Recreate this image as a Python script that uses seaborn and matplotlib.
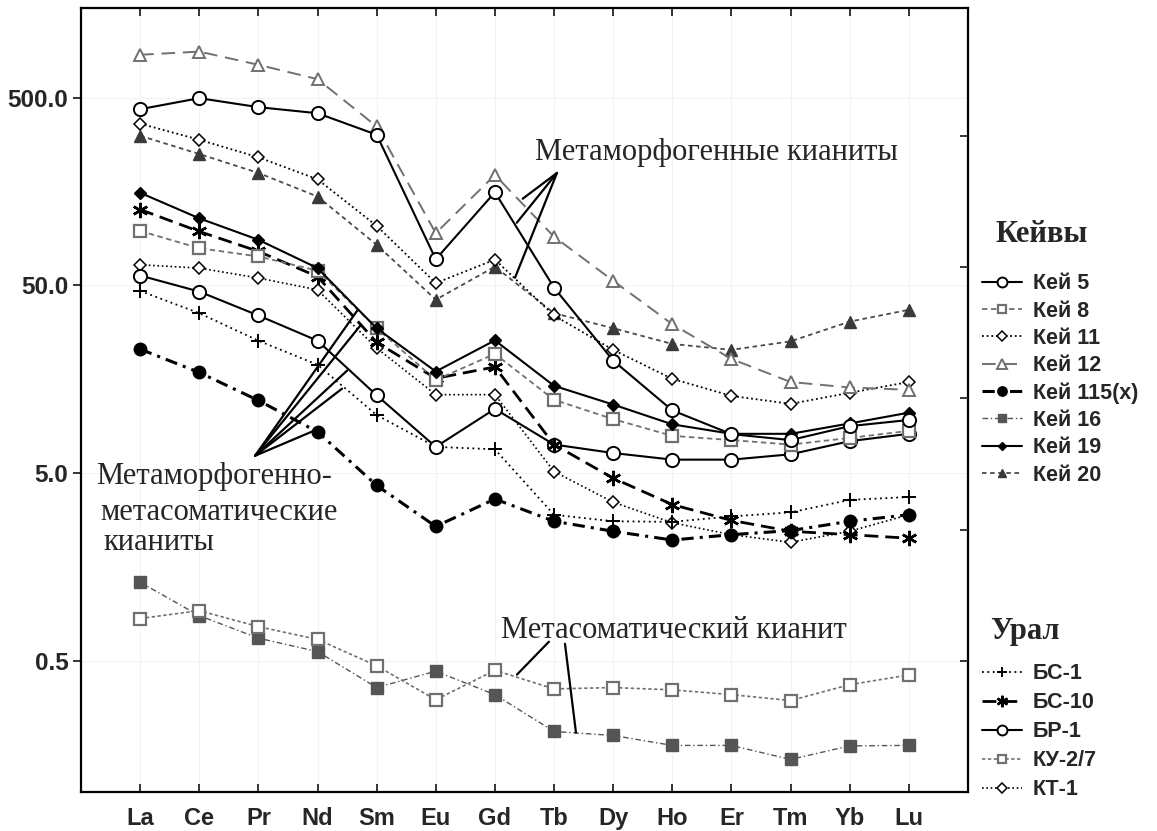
import numpy as np
import matplotlib
matplotlib.use("Agg")
import matplotlib.pyplot as plt
from matplotlib.ticker import NullLocator, FixedLocator
import seaborn as sns

# ---------------- data ----------------
elements = ['La', 'Ce', 'Pr', 'Nd', 'Sm', 'Eu', 'Gd', 'Tb', 'Dy', 'Ho', 'Er', 'Tm', 'Yb', 'Lu']

kei5 = [435, 498, 446, 414, 318, 69, 157, 48.7, 19.9, 10.8, 8.07, 7.5, 8.9, 9.6]
kei8 = [97.6, 79, 71.4, 60, 29.6, 15.7, 21.6, 12.3, 9.7, 7.9, 7.5, 7.1, 7.7, 8.4]
kei11 = [364, 299, 241, 184, 104, 51.5, 68.7, 34.6, 22.7, 15.9, 12.9, 11.7, 13.4, 15.3]
kei12 = [848, 882, 750, 629, 352, 95, 194, 91, 53, 31.1, 20.3, 15.3, 14.3, 13.9]
kei115 = [22.9, 17.2, 12.2, 8.3, 4.3, 2.6, 3.64, 2.77, 2.45, 2.2, 2.35, 2.47, 2.77, 3.0]
kei16 = [1.31, 0.87, 0.66, 0.56, 0.36, 0.44, 0.33, 0.21, 0.20, 0.177, 0.177, 0.149, 0.176, 0.177]
kei19 = [156, 114, 87.6, 61.9, 29.6, 17.4, 25.5, 14.6, 11.6, 9.1, 8.1, 8.1, 9.2, 10.5]
kei20 = [314, 251, 199, 149, 82.4, 42, 63, 35.6, 29.6, 24.4, 22.7, 25.2, 32.1, 37.1]

bs1 = [46.8, 35.6, 25.4, 18.9, 10.2, 6.9, 6.7, 3.0, 2.77, 2.75, 2.94, 3.09, 3.6, 3.73]
bs10 = [127, 97, 76, 55.8, 24.9, 16, 18.4, 7.1, 4.7, 3.4, 2.8, 2.45, 2.35, 2.25]
br1 = [56.5, 46.4, 34.6, 25.4, 13.0, 6.9, 11.0, 7.1, 6.4, 5.9, 5.9, 6.3, 7.4, 8.1]
ku27 = [0.84, 0.925, 0.76, 0.65, 0.47, 0.31, 0.445, 0.354, 0.36, 0.35, 0.33, 0.307, 0.373, 0.42]
kt1 = [64.5, 61.9, 54.8, 47.4, 23.2, 13.1, 13.1, 5.1, 3.5, 2.72, 2.35, 2.14, 2.45, 3.0]

keivy_names = ['Кей 5', 'Кей 8', 'Кей 11', 'Кей 12', 'Кей 115(x)', 'Кей 16', 'Кей 19', 'Кей 20']
ural_names = ['БС-1', 'БС-10', 'БР-1', 'КУ-2/7', 'КТ-1']

ytick_vals = [0.5, 5, 50, 500]
ytick_labels = ['0.5', '5.0', '50.0', '500.0']

# ---------------- style ----------------
sns.set_style("ticks")
plt.rcParams['font.family'] = ['Liberation Sans', 'DejaVu Sans']

GRAY = '#707070'
DGRAY = '#555555'

styles = {
    'Кей 5':      dict(color='black', marker='o', ms=9.5, mfc='white', mec='black', mew=1.4, ls='-', lw=1.5),
    'Кей 8':      dict(color=GRAY, marker='s', ms=8.5, mfc='white', mec=GRAY, mew=1.6, ls=(0, (3, 2)), lw=1.3),
    'Кей 11':     dict(color='black', marker='D', ms=6.5, mfc='white', mec='black', mew=1.1, ls=(0, (1, 1.6)), lw=1.3),
    'Кей 12':     dict(color=GRAY, marker='^', ms=9, mfc='white', mec=GRAY, mew=1.4, ls=(0, (7, 4)), lw=1.4),
    'Кей 115(x)': dict(color='black', marker='o', ms=9, mfc='black', mec='black', mew=1, ls=(0, (4, 2, 1, 2)), lw=2.2),
    'Кей 16':     dict(color=DGRAY, marker='s', ms=8, mfc=DGRAY, mec=DGRAY, mew=1, ls=(0, (4, 2, 1, 2)), lw=1.0),
    'Кей 19':     dict(color='black', marker='D', ms=6, mfc='black', mec='black', mew=1, ls='-', lw=1.5),
    'Кей 20':     dict(color='#4a4a4a', marker='^', ms=8.5, mfc='#3a3a3a', mec='#3a3a3a', mew=1, ls=(0, (2.5, 2)), lw=1.3),
    'БС-1':       dict(color='black', marker='+', ms=10, mfc='black', mec='black', mew=1.4, ls=(0, (1, 2)), lw=1.3),
    'БС-10':      dict(color='black', marker=(6, 2, 0), ms=11, mfc='black', mec='black', mew=1.8, ls=(0, (5, 2.5)), lw=2.0),
    'БР-1':       dict(color='black', marker='o', ms=9.5, mfc='white', mec='black', mew=1.4, ls='-', lw=1.5),
    'КУ-2/7':     dict(color=GRAY, marker='s', ms=8.5, mfc='white', mec=GRAY, mew=1.6, ls=(0, (2, 1.5)), lw=1.2),
    'КТ-1':       dict(color='black', marker='D', ms=6.5, mfc='white', mec='black', mew=1.1, ls=(0, (1, 1.6)), lw=1.2),
}

series = {
    'Кей 5': kei5, 'Кей 8': kei8, 'Кей 11': kei11, 'Кей 12': kei12,
    'Кей 115(x)': kei115, 'Кей 16': kei16, 'Кей 19': kei19, 'Кей 20': kei20,
    'БС-1': bs1, 'БС-10': bs10, 'БР-1': br1, 'КУ-2/7': ku27, 'КТ-1': kt1,
}

draw_order = ['Кей 16', 'КУ-2/7', 'КТ-1', 'Кей 115(x)', 'БС-1', 'БР-1', 'БС-10', 'Кей 8',
              'Кей 19', 'Кей 20', 'Кей 11', 'Кей 12', 'Кей 5']

fig = plt.figure(figsize=(11.57, 8.31), dpi=100)
ax = fig.add_axes([0.070, 0.047, 0.7666, 0.943])
ax.set_yscale('log')

xpos = np.arange(len(elements))
handles = {}
for name in draw_order:
    st = styles[name]
    sns.lineplot(x=xpos, y=series[name], ax=ax, color=st['color'], marker=st['marker'],
                 markersize=st['ms'], markerfacecolor=st['mfc'], markeredgecolor=st['mec'],
                 markeredgewidth=st['mew'], linestyle=st['ls'], linewidth=st['lw'],
                 label=name, legend=False, zorder=3)
    handles[name] = ax.lines[-1]

ax.set_xlim(-1, 14)
ax.set_ylim(0.1, 1500)
ax.set_xticks(xpos)
ax.set_xticklabels(elements, fontsize=17, fontweight='bold')
ax.yaxis.set_major_locator(FixedLocator(ytick_vals))
ax.set_yticklabels(ytick_labels, fontsize=17.5, fontweight='bold')
ax.yaxis.set_minor_locator(NullLocator())
ax.tick_params(axis='x', direction='in', top=True, length=6, width=1.3, pad=11)
ax.tick_params(axis='y', direction='out', length=6, width=1.3, pad=3)
ax.grid(True, color='#f3f3f3', lw=0.8, zorder=0)
for sp in ax.spines.values():
    sp.set_visible(True)
    sp.set_linewidth(1.6)
    sp.set_color('black')
ax.set_xlabel('')
ax.set_ylabel('')

# right-side inner ticks
ax2 = ax.twinx()
ax2.set_yscale('log')
ax2.set_ylim(ax.get_ylim())
ax2.yaxis.set_major_locator(FixedLocator([0.5, 2.5, 12.5, 62.5, 312.5]))
ax2.yaxis.set_minor_locator(NullLocator())
ax2.set_yticklabels([])
ax2.tick_params(axis='y', direction='in', length=6, width=1.3)
for sp in ax2.spines.values():
    sp.set_visible(False)

# ---------------- annotations ----------------
serif = ['Liberation Serif', 'DejaVu Serif']
ax.text(6.68, 234, 'Метаморфогенные кианиты', family=serif, fontsize=22, ha='left', va='baseline')
for xe, ye in [(6.47, 145), (6.37, 108), (6.34, 55)]:
    ax.annotate('', xy=(xe, ye), xytext=(7.05, 199),
                arrowprops=dict(arrowstyle='-', color='black', lw=1.6, shrinkA=0, shrinkB=0))

ax.text(-0.744, 4.35, 'Метаморфогенно-', family=serif, fontsize=22, ha='left', va='baseline')
ax.text(-0.676, 2.83, 'метасоматические', family=serif, fontsize=22, ha='left', va='baseline')
ax.text(-0.625, 1.95, 'кианиты', family=serif, fontsize=22, ha='left', va='baseline')
for xe, ye in [(3.668, 36.6), (3.736, 30.9), (3.5, 17.6), (3.415, 14.1), (2.975, 8.5)]:
    ax.annotate('', xy=(xe, ye), xytext=(1.944, 6.19),
                arrowprops=dict(arrowstyle='-', color='black', lw=1.6, shrinkA=0, shrinkB=0))

ax.text(6.10, 0.663, 'Метасоматический кианит', family=serif, fontsize=22, ha='left', va='baseline')
ax.annotate('', xy=(6.373, 0.422), xytext=(6.914, 0.632),
            arrowprops=dict(arrowstyle='-', color='black', lw=1.6, shrinkA=0, shrinkB=0))
ax.annotate('', xy=(7.371, 0.207), xytext=(7.185, 0.616),
            arrowprops=dict(arrowstyle='-', color='black', lw=1.6, shrinkA=0, shrinkB=0))

# ---------------- legends ----------------
W, H = 1157.0, 831.0
fig.text(995 / W, 1 - 235 / H, 'Кейвы', family='Liberation Serif', weight='bold', fontsize=22,
         ha='left', va='center')
fig.text(990 / W, 1 - 632 / H, 'Урал', family='Liberation Serif', weight='bold', fontsize=22,
         ha='left', va='center')

leg_common = dict(frameon=False, handlelength=1.85, handletextpad=0.5,
                  borderpad=0.2, borderaxespad=0.0, markerscale=0.75, alignment='left',
                  prop=dict(family='Liberation Sans', weight='bold', size=15.5))
leg1 = ax.legend(handles=[handles[n] for n in keivy_names], labels=keivy_names,
                 loc='upper left', bbox_to_anchor=(0.845, 1 - 269 / H),
                 bbox_transform=fig.transFigure, labelspacing=0.29, **leg_common)
ax.add_artist(leg1)
leg2 = ax.legend(handles=[handles[n] for n in ural_names], labels=ural_names,
                 loc='upper left', bbox_to_anchor=(0.845, 1 - 659 / H),
                 bbox_transform=fig.transFigure, labelspacing=0.37, **leg_common)

fig.savefig('out.png', dpi=100, facecolor='white')
